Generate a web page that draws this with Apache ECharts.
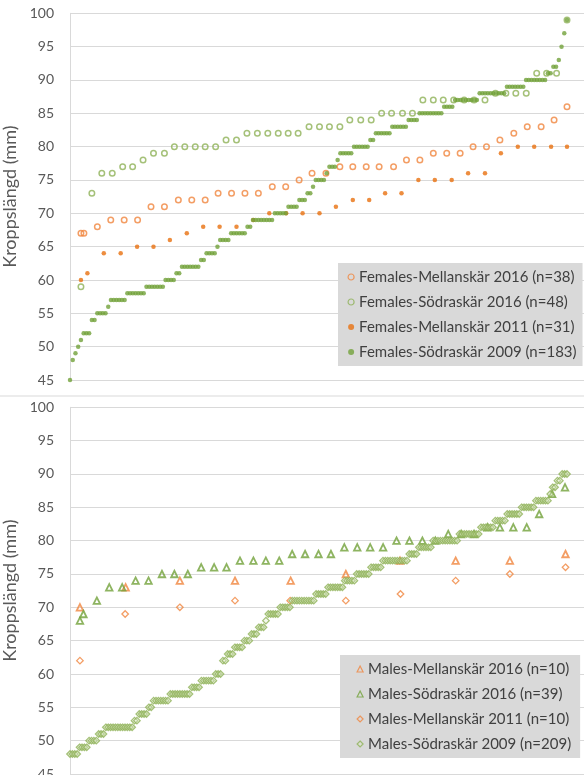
<!DOCTYPE html>
<html>
<head>
<meta charset="utf-8">
<script src="https://cdn.jsdelivr.net/npm/echarts@6/dist/echarts.min.js"></script>
<style>
  html, body { margin: 0; padding: 0; background: #ffffff; }
  #chart { width: 584px; height: 775px; }
</style>
</head>
<body>
<div id="chart"></div>
<script>
// Body length (mm) of individuals, sorted within each sample.
// x = relative rank position within the sample (percent of sample).

// ---- Females ----
const fMel2016X = [2.2, 2.8, 5.5, 8.2, 10.9, 13.6, 16.3, 19.0, 21.8, 24.5, 27.2, 29.8, 32.5, 35.2, 37.9, 40.7, 43.4, 46.1, 48.7, 51.5, 54.3, 56.9, 59.6, 62.2, 65.1, 67.7, 70.4, 73.1, 75.8, 78.5, 81.1, 83.8, 86.5, 89.3, 92.0, 94.8, 97.4, 100];
const fMel2016Y = [67, 67, 68, 69, 69, 69, 71, 71, 72, 72, 72, 73, 73, 73, 73, 74, 74, 75, 76, 76, 77, 77, 77, 77, 77, 78, 78, 79, 79, 79, 80, 80, 81, 82, 83, 83, 84, 86];

const fSod2016X = [2.2, 4.4, 6.4, 8.5, 10.6, 12.6, 14.7, 16.8, 19.0, 21.0, 23.1, 25.2, 27.2, 29.3, 31.4, 33.5, 35.6, 37.7, 39.8, 41.9, 43.9, 45.9, 48.1, 50.2, 52.2, 54.3, 56.3, 58.5, 60.6, 62.7, 64.7, 66.9, 68.9, 71.0, 73.1, 75.1, 77.2, 79.3, 81.3, 83.5, 85.6, 87.7, 89.7, 91.8, 93.9, 95.9, 97.9, 100];
const fSod2016Y = [59, 73, 76, 76, 77, 77, 78, 79, 79, 80, 80, 80, 80, 80, 81, 81, 82, 82, 82, 82, 82, 82, 83, 83, 83, 83, 84, 84, 84, 85, 85, 85, 85, 87, 87, 87, 87, 87, 87, 87, 88, 88, 88, 88, 91, 91, 91, 99];

const fMel2011X = [2.2, 3.5, 6.8, 10.2, 13.5, 16.8, 20.1, 23.5, 26.8, 30.1, 33.5, 36.9, 40.1, 43.5, 46.8, 50.2, 53.5, 56.9, 60.2, 63.4, 66.7, 70.1, 73.4, 76.8, 80.1, 83.5, 86.7, 90.1, 93.4, 96.8, 100];
const fMel2011Y = [60, 61, 64, 64, 65, 65, 66, 67, 68, 68, 68, 69, 70, 70, 70, 70, 71, 72, 72, 73, 73, 75, 75, 75, 76, 76, 79, 80, 80, 80, 80];

// Large sample: number of individuals at each length (mm)
const fSod2009Length = [45, 48, 49, 50, 51, 52, 54, 55, 56, 57, 58, 59, 60, 61, 62, 63, 64, 65, 66, 67, 68, 69, 70, 71, 72, 73, 74, 75, 76, 77, 78, 79, 80, 81, 82, 83, 84, 85, 86, 87, 88, 89, 90, 91, 92, 93, 95, 97, 99];
const fSod2009Count  = [ 1,  1,  1,  1,  1,  3,  2,  4,  1,  6,  7,  7,  4,  2,  7,  2,  4,  1,  4,  6,  2,  8,  5,  4,  3,  2,  1,  4,  1,  3,  1,  5,  6,  2,  6,  6,  4,  9,  4,  9, 10,  7,  8,  2,  2,  1,  1,  1,  1];

// ---- Males ----
const mMel2016X = [2.0, 11.2, 22.1, 33.2, 44.4, 55.5, 66.4, 77.6, 88.5, 99.7];
const mMel2016Y = [70, 73, 74, 74, 74, 75, 77, 77, 77, 78];

const mSod2016X = [2.0, 2.7, 5.4, 7.9, 10.5, 13.2, 15.8, 18.5, 21.0, 23.7, 26.4, 29.0, 31.5, 34.2, 36.9, 39.4, 42.1, 44.7, 47.3, 50.0, 52.5, 55.2, 57.8, 60.4, 63.0, 65.7, 68.3, 70.9, 73.5, 76.1, 78.7, 81.3, 84.0, 86.5, 89.2, 91.9, 94.4, 97.0, 99.6];
const mSod2016Y = [68, 69, 71, 73, 73, 74, 74, 75, 75, 75, 76, 76, 76, 77, 77, 77, 77, 78, 78, 78, 78, 79, 79, 79, 79, 80, 80, 80, 80, 81, 81, 81, 82, 82, 82, 82, 84, 87, 88];

const mMel2011X = [2.0, 11.1, 22.1, 33.2, 44.3, 55.5, 66.5, 77.6, 88.5, 99.7];
const mMel2011Y = [62, 69, 70, 71, 71, 71, 72, 74, 75, 76];

const mSod2009Length = [48, 49, 50, 51, 52, 53, 54, 55, 56, 57, 58, 59, 60, 62, 63, 64, 65, 66, 67, 68, 69, 70, 71, 72, 73, 74, 75, 76, 77, 78, 79, 80, 81, 82, 83, 84, 85, 86, 87, 88, 89, 90];
const mSod2009Count  = [ 4,  4,  4,  3, 12,  2,  4,  2,  7,  9,  4,  6,  3,  2,  3,  4,  3,  3,  3,  1,  5,  5, 10,  5,  7,  5,  6,  5, 11,  4,  6, 11,  9,  6,  5,  6,  6,  6,  1,  2,  2,  3];

const seriesNames = {
  fMel2016: 'Females-Mellanskär 2016 (n=38)',
  fSod2016: 'Females-Södraskär 2016 (n=48)',
  fMel2011: 'Females-Mellanskär 2011 (n=31)',
  fSod2009: 'Females-Södraskär 2009 (n=183)',
  mMel2016: 'Males-Mellanskär 2016 (n=10)',
  mSod2016: 'Males-Södraskär 2016 (n=39)',
  mMel2011: 'Males-Mellanskär 2011 (n=10)',
  mSod2009: 'Males-Södraskär 2009 (n=209)'
};

const yTicks = { min: 45, max: 100, step: 5 };

// helpers
function zipXY(xs, ys) { return xs.map((x, i) => [x, ys[i]]); }
function expandCounts(lengths, counts) {
  const vals = [];
  lengths.forEach((len, k) => { for (let c = 0; c < counts[k]; c++) vals.push(len); });
  const n = vals.length;
  return vals.map((v, i) => [i / (n - 1) * 100, v]);
}

const FONT = 'Lato, "Open Sans", sans-serif';
const ORANGE = '#F0863F';
const ORANGE_DK = '#E8700F';
const GREEN = '#8FB257';
const GREEN_DK = '#72A13A';
const GRID_LINE = '#D9D9D9';
const CLEAR = 'rgba(255,255,255,0)';
const DIAMOND_FILL = 'rgba(225,236,205,0.45)';

const xMax = 514 / 4.97;   // plot spans a little beyond the last rank

function yAxisFor(idx) {
  return {
    gridIndex: idx, type: 'value', min: yTicks.min, max: yTicks.max, interval: yTicks.step,
    axisLine: { show: true, lineStyle: { color: GRID_LINE, width: 1 } },
    axisTick: { show: false },
    splitLine: { lineStyle: { color: GRID_LINE, width: 1 } },
    axisLabel: { fontFamily: FONT, fontSize: 14, color: '#595959', margin: 16 },
    name: 'Kroppslängd (mm)', nameLocation: 'middle', nameGap: 39,
    nameTextStyle: { fontFamily: FONT, fontSize: 18, color: '#595959' }
  };
}
function xAxisFor(idx) {
  return { gridIndex: idx, type: 'value', min: 0, max: xMax, show: false };
}

// marker styles, shared by the plotted points and the legend keys
const styles = {
  fMel2016: { symbol: 'circle',   size: 5.5, item: { color: CLEAR, borderColor: ORANGE, borderWidth: 1.5 } },
  fSod2016: { symbol: 'circle',   size: 5.5, item: { color: CLEAR, borderColor: GREEN, borderWidth: 1.5 } },
  fMel2011: { symbol: 'circle',   size: 4.5, item: { color: ORANGE_DK, borderWidth: 0 } },
  fSod2009: { symbol: 'circle',   size: 4.5, item: { color: GREEN_DK, borderWidth: 0 } },
  mMel2016: { symbol: 'triangle', size: 6.5, item: { color: CLEAR, borderColor: ORANGE, borderWidth: 1.8 } },
  mSod2016: { symbol: 'triangle', size: 6.5, item: { color: CLEAR, borderColor: GREEN_DK, borderWidth: 1.8 } },
  mMel2011: { symbol: 'diamond',  size: 6.5, item: { color: CLEAR, borderColor: ORANGE, borderWidth: 1.3 } },
  mSod2009: { symbol: 'diamond',  size: 6.5, item: { color: DIAMOND_FILL, borderColor: GREEN, borderWidth: 1.3 } }
};

const seriesData = {
  fMel2016: zipXY(fMel2016X, fMel2016Y),
  fSod2016: zipXY(fSod2016X, fSod2016Y),
  fMel2011: zipXY(fMel2011X, fMel2011Y),
  fSod2009: expandCounts(fSod2009Length, fSod2009Count),
  mMel2016: zipXY(mMel2016X, mMel2016Y),
  mSod2016: zipXY(mSod2016X, mSod2016Y),
  mMel2011: zipXY(mMel2011X, mMel2011Y),
  mSod2009: expandCounts(mSod2009Length, mSod2009Count)
};

const femaleKeys = ['fMel2016', 'fSod2016', 'fMel2011', 'fSod2009'];
const maleKeys = ['mMel2016', 'mSod2016', 'mMel2011', 'mSod2009'];

const series = [];
femaleKeys.concat(maleKeys).forEach(k => {
  const panel = femaleKeys.includes(k) ? 0 : 1;
  series.push({
    name: seriesNames[k], type: 'scatter', xAxisIndex: panel, yAxisIndex: panel,
    symbol: styles[k].symbol, symbolSize: styles[k].size, itemStyle: styles[k].item,
    data: seriesData[k]
  });
});

function legendFor(keys, left, top, padding) {
  return {
    orient: 'vertical', left: left, top: top,
    backgroundColor: '#D9D9D9', padding: padding, itemGap: 10,
    itemWidth: 6, itemHeight: 6,
    textStyle: { fontFamily: FONT, fontSize: 15, color: '#404040' },
    data: keys.map(k => ({
      name: seriesNames[k],
      icon: styles[k].symbol,
      itemStyle: Object.assign({}, styles[k].item,
        styles[k].item.borderColor ? { borderWidth: 1.2 } : {})
    }))
  };
}

const chart = echarts.init(document.getElementById('chart'), null, { renderer: 'canvas' });
chart.setOption({
  animation: false,
  backgroundColor: '#ffffff',
  grid: [
    { left: 70, right: 0, top: 13.3, height: 366.7, containLabel: false, outerBoundsMode: 'none' },
    { left: 70, right: 0, top: 407.3, height: 366.7, containLabel: false, outerBoundsMode: 'none' }
  ],
  xAxis: [xAxisFor(0), xAxisFor(1)],
  yAxis: [yAxisFor(0), yAxisFor(1)],
  legend: [
    legendFor(femaleKeys, 338, 263, [6.5, 6, 6.5, 9.5]),
    legendFor(maleKeys, 340, 655, [6.5, 9, 6.5, 16.5])
  ],
  graphic: [
    { type: 'line', shape: { x1: 0, y1: 396, x2: 584, y2: 396 }, style: { stroke: GRID_LINE, lineWidth: 1 }, silent: true }
  ],
  series: series
});
</script>
</body>
</html>
